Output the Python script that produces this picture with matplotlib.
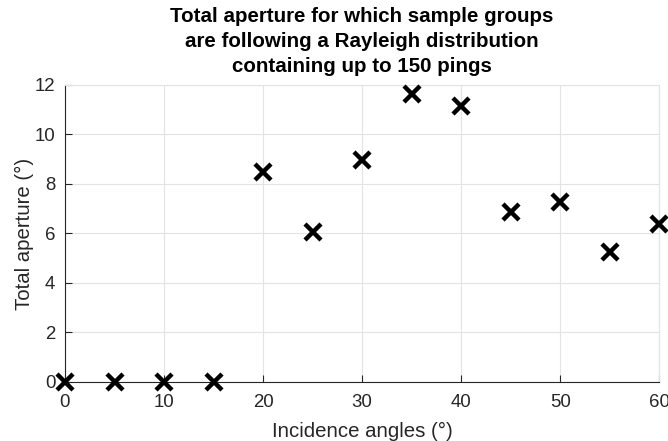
import matplotlib.pyplot as plt

plt.rcParams['font.family'] = ['Liberation Sans', 'DejaVu Sans']

angles = [0, 5, 10, 15, 20, 25, 30, 35, 40, 45, 50, 55, 60]
aperture = [0, 0, 0, 0, 8.48, 6.04, 8.97, 11.62, 11.15, 6.88, 7.28, 5.27, 6.39]

fig = plt.figure(figsize=(6.68, 4.41), dpi=100)
ax = fig.add_axes([0.0973, 0.1338, 0.8897, 0.6735])

ax.plot(angles, aperture, linestyle='none', marker='x', markersize=11.5,
        markeredgewidth=3.2, color='black', clip_on=False, zorder=5)

ax.set_xlim(0, 60)
ax.set_ylim(0, 12)
ax.set_xticks(range(0, 61, 10))
ax.set_yticks(range(0, 13, 2))
ax.grid(True, color='#e3e3e3', linewidth=0.8)
ax.set_axisbelow(True)

for side in ['top', 'right']:
    ax.spines[side].set_color('#e3e3e3')
    ax.spines[side].set_linewidth(0.8)
for side in ['left', 'bottom']:
    ax.spines[side].set_color('#262626')
    ax.spines[side].set_linewidth(0.8)

ax.tick_params(direction='in', length=5, width=0.8, colors='#262626',
               labelsize=13.4, labelcolor='#262626', top=False, right=False)
ax.tick_params(axis='x', pad=9)
ax.tick_params(axis='y', pad=7)

ax.set_xlabel('Incidence angles (°)', fontsize=14.7, color='#262626', labelpad=7.5)
ax.set_ylabel('Total aperture (°)', fontsize=14.7, color='#262626', labelpad=0.5)
ax.set_title('Total aperture for which sample groups\n'
             'are following a Rayleigh distribution\n'
             'containing up to 150 pings',
             fontsize=14.8, fontweight='bold', linespacing=1.42, pad=9)

fig.savefig('out.png', dpi=100)
